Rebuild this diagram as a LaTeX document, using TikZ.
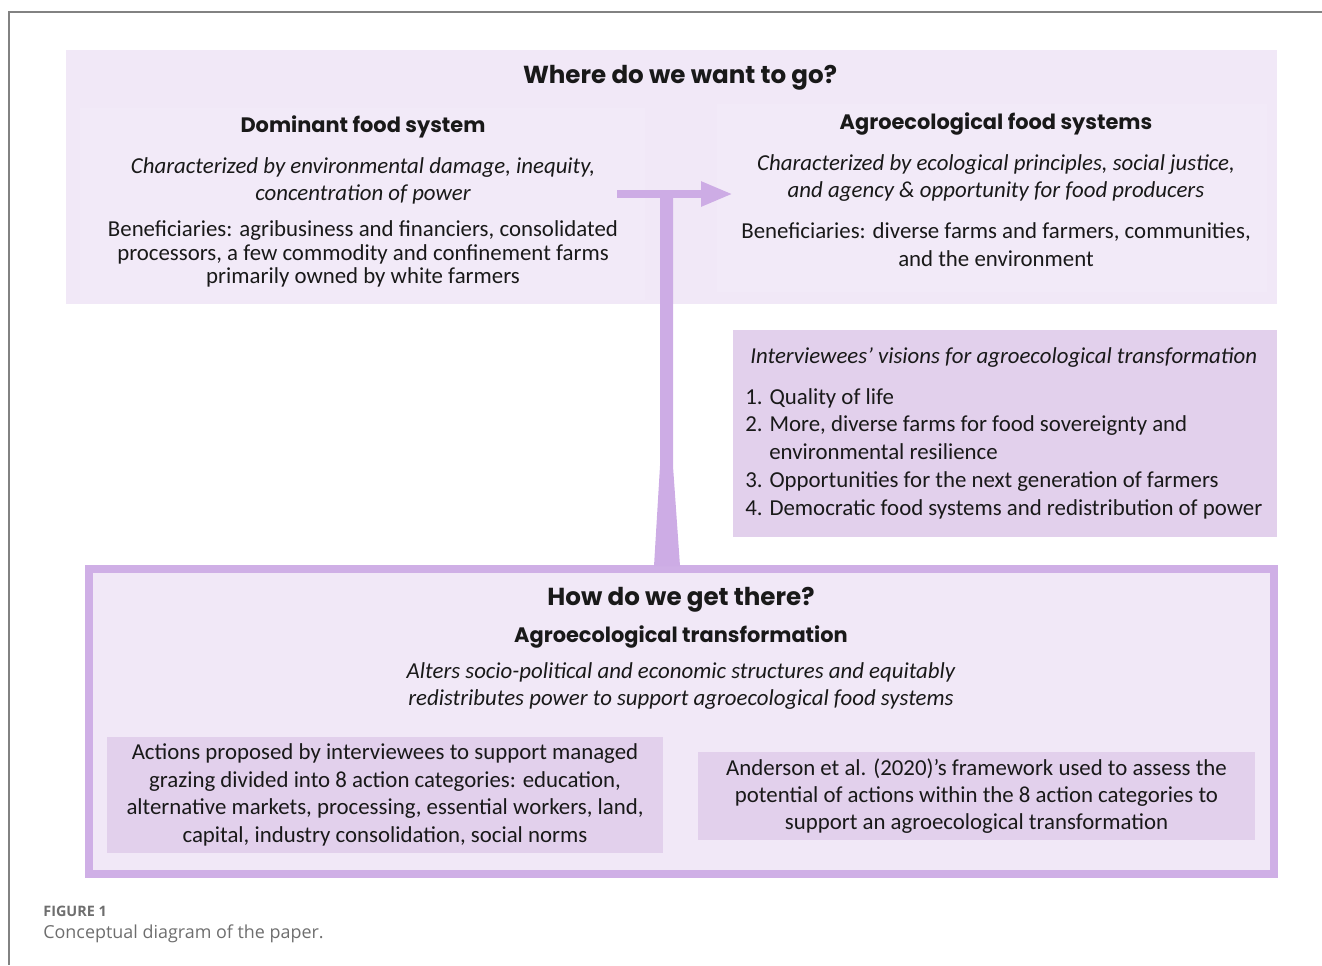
\documentclass[tikz,border=0pt]{standalone}
\usepackage{fontspec}
\setmainfont{Carlito}
\newfontfamily\headfont{Poppins}
\newfontfamily\capfont{Open Sans}
\usetikzlibrary{positioning,arrows.meta}

\definecolor{panelfill}{RGB}{241,232,247}
\definecolor{subfill}{RGB}{242,234,248}
\definecolor{boxfill}{RGB}{226,208,236}
\definecolor{rimcol}{RGB}{207,175,230}
\definecolor{arrowcol}{RGB}{205,172,229}
\definecolor{framegray}{RGB}{130,130,130}
\definecolor{capgray}{RGB}{110,110,110}
\definecolor{inkcol}{RGB}{25,25,25}

\tikzset{
  panel/.style={fill=panelfill, draw=none, inner sep=0},
  subpanel/.style={fill=subfill, draw=none, inner sep=0},
  box/.style={fill=boxfill, draw=none, inner sep=0, align=center, text=inkcol,
    font=\fontsize{13}{15.6}\selectfont},
  head/.style={inner sep=0, text=inkcol, font=\headfont\bfseries\fontsize{14}{16}\selectfont},
  subhead/.style={inner sep=0, text=inkcol, font=\headfont\bfseries\fontsize{11.9}{14}\selectfont},
  body/.style={inner sep=0, align=center, text=inkcol, font=\fontsize{13}{15.8}\selectfont},
  bodyit/.style={body, font=\fontsize{13}{15.8}\selectfont\itshape},
  tight/.style={font=\fontsize{13}{13.3}\selectfont},
}

\begin{document}
\begin{tikzpicture}[x=0.02cm, y=-0.02cm]
  \useasboundingbox (0,0) rectangle (1322,965);

  % Frame
  \draw[framegray, line width=0.03cm] (1322,12) -- (9,12) -- (9,965);

  % Background panels
  \node[panel, minimum width=24.22cm, minimum height=5.08cm]   (wherepanel) at (671.5,177) {};
  \node[subpanel, minimum width=11.3cm, minimum height=3.84cm] (dompanel)   at (362.5,204) {};
  \node[subpanel, minimum width=11cm, minimum height=3.76cm]   (agropanel)  at (992,198)   {};
  \node[fill=boxfill, minimum width=10.88cm, minimum height=4.14cm] (vispanel) at (1005,433.5) {};
  \node[panel, draw=rimcol, line width=0.16cm,
        minimum width=23.7cm, minimum height=6.1cm]            (howpanel)   at (681.5,721.5) {};

  % Where do we want to go?
  \node[head]    (wheretitle) at (680,78)  {Where do we want to go?};
  \node[subhead] (domtitle)   at (363,127) {Dominant food system};
  \node[bodyit]  (domchar)    at (363,181) {Characterized by environmental damage, inequity,\\concentration of power};
  \node[body, tight] (dombenef) at (363,254) {Beneficiaries: agribusiness and financiers, consolidated\\processors, a few commodity and confinement farms\\primarily owned by white farmers};
  \node[subhead] (agrotitle)  at (996,124) {Agroecological food systems};
  \node[bodyit]  (agrochar)   at (996,178) {Characterized by ecological principles, social justice,\\and agency \& opportunity for food producers};
  \node[body]    (agrobenef)  at (996,245) {Beneficiaries: diverse farms and farmers, communities,\\and the environment};

  % Visions list
  \node[bodyit, anchor=west] (vistitle) at (750,358) {Interviewees’ visions for agroecological transformation};
  \node[body, align=left, anchor=north west] (vislist) at (745,388)
    {1. Quality of life\\
     2. More, diverse farms for food sovereignty and\\
     \hspace*{1.05em}environmental resilience\\
     3. Opportunities for the next generation of farmers\\
     4. Democratic food systems and redistribution of power};

  % How do we get there?
  \node[head]    (howtitle)   at (681,600) {How do we get there?};
  \node[subhead] (transtitle) at (681,637) {Agroecological transformation};
  \node[bodyit]  (transdesc)  at (681,686) {Alters socio-political and economic structures and equitably\\redistributes power to support agroecological food systems};
  \node[box, minimum width=11.12cm, minimum height=2.32cm] (actions) at (385,795)
    {Actions proposed by interviewees to support managed\\grazing divided into 8 action categories: education,\\alternative markets, processing, essential workers, land,\\capital, industry consolidation, social norms};
  \node[box, minimum width=11.14cm, minimum height=1.76cm] (framework) at (976.5,796)
    {Anderson et al. (2020)’s framework used to assess the\\potential of actions within the 8 action categories to\\support an agroecological transformation};

  % Connect the panels
  \coordinate (tee)  at (666,194);
  \coordinate (foot) at (666,566);
  \coordinate (barstart) at (617,194);
  \coordinate (bartip)   at (733,194);
  \fill[arrowcol] (tee) ++(-6,0) -- ++(13,0) -- ([xshift=0.14cm, yshift=2cm]foot)
    -- ([xshift=0.28cm]foot) -- ([xshift=-0.24cm]foot) -- ([xshift=-0.12cm, yshift=2cm]foot) -- cycle;
  \draw[arrowcol, line width=0.16cm, -{Triangle[length=0.64cm, width=0.46cm]}] (barstart) -- (bartip);

  % Caption
  \node[anchor=west, inner sep=0, text=capgray, font=\capfont\bfseries\fontsize{8.2}{10}\selectfont] (figlabel) at (43,911) {FIGURE 1};
  \node[anchor=west, inner sep=0, text=capgray, font=\capfont\fontsize{10.2}{12}\selectfont] (figcaption) at (43,934) {Conceptual diagram of the paper.};
\end{tikzpicture}
\end{document}
